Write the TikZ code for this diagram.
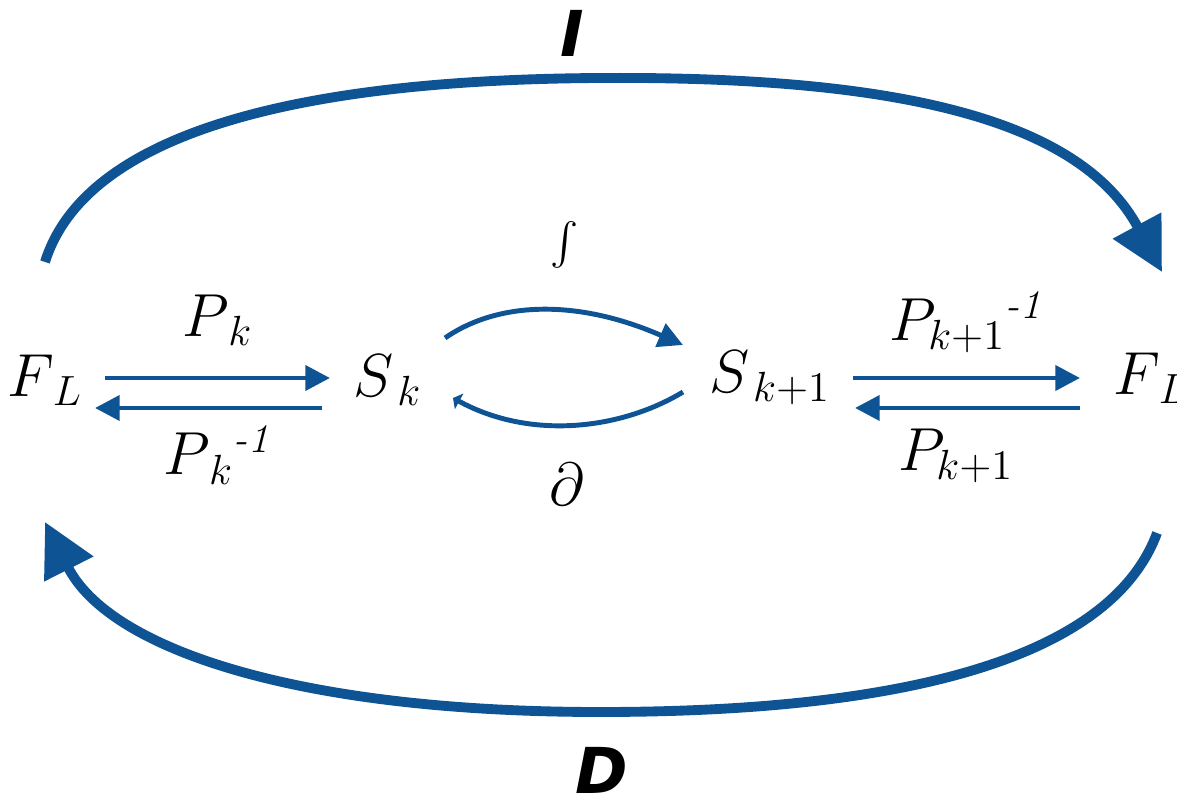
\documentclass[tikz,border=0pt]{standalone}
\usepackage{amsmath}
\usepackage{fontspec}
\newfontfamily\opfont{DejaVu Sans}
\usetikzlibrary{arrows.meta}
\definecolor{flowblue}{RGB}{14,83,148}
\begin{document}
\begin{tikzpicture}[x=0.01cm, y=-0.01cm,
  term/.style={inner sep=0pt, font=\fontsize{16.5}{19}\selectfont},
  op/.style={inner sep=0pt, font=\opfont\bfseries\itshape\fontsize{18}{21}\selectfont},
  link/.style={draw=flowblue, line width=1.4pt, -{Triangle[length=7pt,width=7pt]}},
  loop/.style={draw=flowblue, line width=2.8pt, -{Triangle[length=15pt,width=15pt]}}
]
\useasboundingbox (0,0) rectangle (1177,795);
\node[term] (FL) at (45,380) {$F_{\,L}$};
\node[term] (Sk) at (388,380) {$S_{\,k}$};
\node[term] (Sk1) at (770,378) {$S_{\,k+1}$};
\node[term] (FLp) at (1156,378) {$F_{\,L'}$};
\node[term] (Pk) at (218,320) {$P_{\,k}$};
\node[term] (Pkinv) at (217,455) {$P_{\,k}{}^{\textit{-1}}$};
\node[term] (Pk1inv) at (966,322) {$P_{k+1}{}^{\textit{-1}}$};
\node[term] (Pk1) at (956,456) {$P_{k+1}$};
\node[term, font=\fontsize{12}{14}\selectfont] (int) at (565,245) {$\int$};
\node[term] (del) at (567,484) {$\partial$};
\node[op] (lblI) at (572,33) {I};
\node[op] (lblD) at (602,770) {D};
\draw[link] ([shift={(60,-2)}]FL.center) -- ([shift={(-58,-2)}]Sk.center);
\draw[link] ([shift={(-66,28)}]Sk.center) -- ([shift={(50,28)}]FL.center);
\draw[link] ([shift={(83,0)}]Sk1.center) -- ([shift={(-76,0)}]FLp.center);
\draw[link] ([shift={(-76,30)}]FLp.center) -- ([shift={(85,30)}]Sk1.center);
\draw[link] ([shift={(57,-42)}]Sk.center) .. controls +(55,-38) and +(-103,-45) .. ([shift={(-87,-33)}]Sk1.center);
\draw[draw=flowblue, line width=1.4pt, -{Triangle[length=2pt,width=5pt]}]
  ([shift={(-87,14)}]Sk1.center) .. controls +(-63,38) and +(77,42) .. ([shift={(65,18)}]Sk.center);
\draw[loop] ([shift={(0,-118)}]FL.center) .. controls (80,150) and (250,80) .. (600,78)
  .. controls (900,76) and (1080,120) .. ([shift={(6,-106)}]FLp.center);
\draw[loop] ([shift={(1,155)}]FLp.center) .. controls (1110,660) and (900,712) .. (600,712)
  .. controls (300,712) and (110,650) .. ([shift={(0,142)}]FL.center);
\end{tikzpicture}
\end{document}
